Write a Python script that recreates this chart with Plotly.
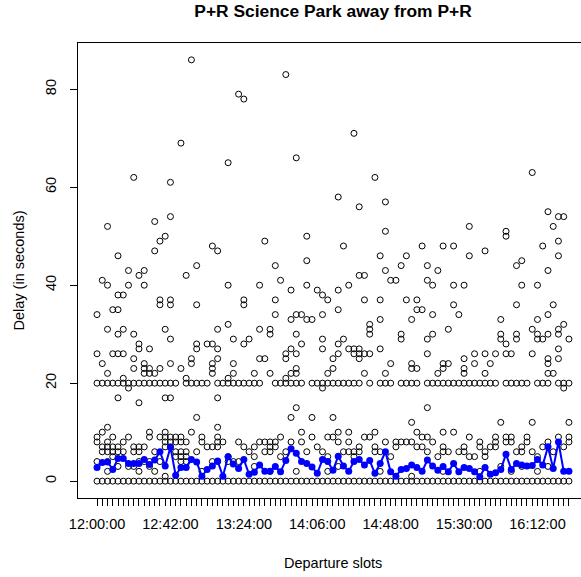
import plotly.graph_objects as go

# ---------------- data ----------------
n_slots = 91  # 3-minute departure slots from 12:00:00 to 16:30:00
slot_times = ["%02d:%02d:00" % (12 + (3 * i) // 60, (3 * i) % 60) for i in range(n_slots)]
tick_labels = ["12:00:00", "12:42:00", "13:24:00", "14:06:00", "14:48:00", "15:30:00", "16:12:00"]

# mean delay per slot (blue line)
mean_delay = [2.8, 3.8, 3.9, 2.4, 4.6, 4.6, 3.6, 3.6, 3.6, 4.4,
              3.4, 4.3, 6.0, 3.1, 6.9, 1.2, 2.8, 2.8, 4.4, 3.9,
              1.0, 2.4, 3.1, 4.1, 1.0, 5.0, 3.5, 2.6, 4.4, 1.4,
              1.8, 3.3, 2.0, 2.0, 3.0, 1.9, 4.2, 6.6, 5.7, 4.0,
              3.6, 2.9, 1.6, 4.4, 4.0, 2.2, 5.1, 3.1, 2.0, 4.0,
              4.4, 3.3, 4.2, 1.6, 3.6, 6.0, 1.9, 1.0, 2.4, 2.6,
              3.3, 2.8, 2.0, 4.3, 3.1, 2.2, 3.0, 1.9, 3.6, 1.9,
              2.8, 2.6, 1.9, 0.9, 2.8, 1.4, 1.7, 2.4, 5.5, 2.4,
              3.6, 3.3, 3.1, 3.2, 4.4, 3.3, 7.0, 2.6, 8.0, 2.0, 2.0]

# slots where no observation sits at exactly 20 s
slots_without_20 = [16, 22, 32, 33, 40, 51, 53, 57, 62, 77, 83, 87]

# observed delays below 20 s (besides the zero present in every slot)
low_delays = [
    [9, 8, 4], [10, 7, 6], [11, 8, 7, 6, 4, 2], [9, 7, 6, 5], [17, 7, 6, 3],
    [8, 6], [19, 9, 3], [7, 6, 3], [16, 7, 6, 4, 2], [7, 4],
    [10, 9, 4, 3], [6, 2], [9, 4], [17, 10, 9, 8, 7, 1], [17, 9, 8, 7],
    [9, 8, 6, 5], [9, 8, 6, 5, 4], [8, 6, 5, 4], [10], [13, 6],
    [9, 8, 2], [7], [7, 4], [17, 11, 9, 8, 7, 4], [8],
    [5, 4], [4], [8, 4], [7], [6],
    [7, 5, 3], [8], [8, 6], [8, 7, 6, 2], [8, 7],
    [9, 5], [6], [13, 8], [15, 2], [10, 8],
    [6], [13, 9], [7], [19, 6], [9, 5, 2],
    [13, 9], [10, 8, 3], [6], [10, 8, 6], [6, 5],
    [7, 6], [9], [9], [10, 7, 6], [6, 2],
    [8], [5], [8, 7], [8], [8],
    [12, 8, 1], [10, 7], [9, 7], [15, 9, 6], [8],
    [5], [10, 7, 6, 2], [6], [10], [6],
    [7, 6], [9, 5], [5], [8, 7, 2], [6, 5],
    [7], [9, 8, 7], [12, 3], [9, 8], [9, 8, 2],
    [6], [7, 6, 3], [9, 8], [12, 6], [5, 2],
    [7], [8, 3], [6], [9], [19, 7],
    [12, 9, 8],
]

# observed delays above 20 s
high_delays = [
    [34, 26], [41, 24], [52, 40, 31, 22], [35, 26], [46, 38, 35, 30, 26],
    [38, 31, 26, 21], [43, 40], [62, 30, 25, 23], [42, 28, 27], [43, 40, 24, 23, 22],
    [27, 23, 22], [53, 47, 22], [49, 37, 36, 23], [50, 31], [61, 54, 37, 36, 29, 24],
    [], [69, 23], [42, 21], [86, 25, 24], [44, 36, 28, 27],
    [], [28], [48, 28, 24, 23, 22], [47, 31, 27, 25], [],
    [65, 40, 32, 21], [29, 24, 22], [79], [78, 37, 36, 28], [29],
    [22], [40, 31, 25], [49, 25], [31, 30, 22], [44, 37, 34],
    [41], [83, 26, 25, 21], [39, 33, 27, 22], [66, 34, 30, 26, 23, 22], [34, 28],
    [50, 45, 40, 33], [33], [39], [38, 34, 29, 27], [37, 22],
    [25, 23], [58, 39, 35, 28, 26], [48, 29], [40, 27], [71, 27, 26],
    [56, 42, 27, 26, 25], [42, 37, 26, 22], [32, 31, 30, 26], [62], [46, 37, 33, 27],
    [57, 51, 43, 22], [41, 24], [41], [44, 30, 29], [46, 37],
    [33, 24, 23], [37, 35, 23], [48, 35], [44, 41, 29, 26], [40, 34, 30],
    [43, 22], [48, 24, 23], [31, 24], [48, 40, 36], [34],
    [40, 25, 23, 22], [52, 46], [26, 24], [], [47, 26, 22],
    [24], [26], [33, 30, 29], [51, 50, 28, 26], [26],
    [44, 36, 30, 29], [45, 40], [], [63, 31, 26], [40, 33, 30, 29],
    [48, 29], [55, 43, 34, 30, 25, 24, 22], [52, 36, 22], [54, 49, 46, 31, 30, 27, 25], [54, 32],
    [29],
]

# ---------------- build scatter ----------------
xs, ys = [], []
for i in range(n_slots):
    vals = [0] + ([] if i in slots_without_20 else [20]) + low_delays[i] + high_delays[i]
    for v in vals:
        xs.append(i)
        ys.append(v)

FONT = "Liberation Sans, Arial, sans-serif"

fig = go.Figure()
fig.add_trace(go.Scatter(
    x=xs, y=ys, mode="markers",
    marker=dict(symbol="circle-open", size=6, color="black", line=dict(width=1, color="black")),
    showlegend=False, hoverinfo="y"))
fig.add_trace(go.Scatter(
    x=list(range(n_slots)), y=mean_delay, mode="lines+markers",
    line=dict(color="#0000FF", width=2),
    marker=dict(symbol="circle", size=7, color="#0000FF"),
    showlegend=False))

tickvals = list(range(n_slots))
ticktext = [t if t in tick_labels else "" for t in slot_times]

fig.update_layout(
    width=581, height=577,
    margin=dict(l=78, r=0, t=43, b=79),
    paper_bgcolor="white", plot_bgcolor="white",
    font=dict(family=FONT, size=14.5, color="black"),
    title=dict(text="<b>P+R Science Park away from P+R</b>", x=333 / 581, xanchor="center",
               y=1 - 11 / 577, yanchor="middle", font=dict(size=17.4, family=FONT, color="black")),
    xaxis=dict(range=[-3.63, 92.3], tickvals=tickvals, ticktext=ticktext, tickangle=0,
               ticks="outside", ticklen=7, tickcolor="black", tickwidth=1,
               showline=True, linecolor="black", linewidth=1, mirror=True,
               showgrid=False, zeroline=False, ticklabelstandoff=6),
    yaxis=dict(range=[-3.44, 89.44], tickvals=[0, 20, 40, 60, 80], tickangle=-90,
               ticks="outside", ticklen=7, tickcolor="black", tickwidth=1,
               showline=True, linecolor="black", linewidth=1, mirror=False,
               showgrid=False, zeroline=False, ticklabelstandoff=8),
    annotations=[
        dict(text="Departure slots", xref="paper", yref="paper", x=(333 - 78) / 503,
             y=-(563 - 498) / 455, xanchor="center", yanchor="middle", showarrow=False,
             font=dict(size=14.5, family=FONT, color="black")),
        dict(text="Delay (in seconds)", xref="paper", yref="paper", x=-(78 - 18) / 503,
             y=0.5, xanchor="center", yanchor="middle", showarrow=False, textangle=-90,
             font=dict(size=14.5, family=FONT, color="black")),
    ],
)

fig.write_html("out.html")
